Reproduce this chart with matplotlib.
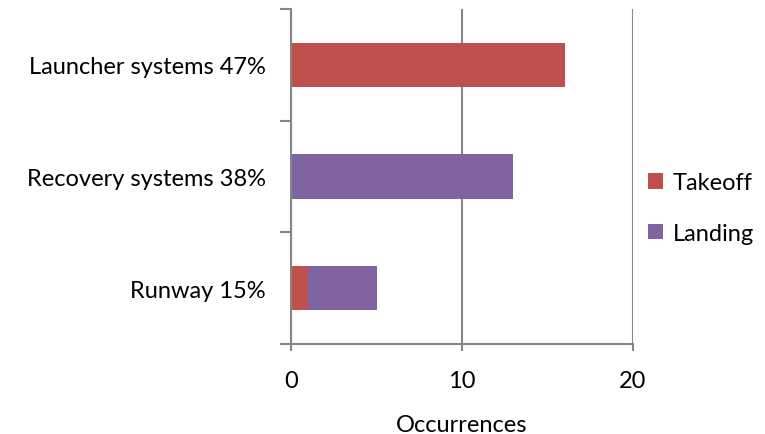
import matplotlib.pyplot as plt
import numpy as np

# categories listed top to bottom
categories = ["Launcher systems 47%", "Recovery systems 38%", "Runway 15%"]
takeoff = [16, 0, 1]
landing = [0, 13, 4]
x_ticks = [0, 10, 20]

plt.rcParams['font.family'] = ['Lato', 'DejaVu Sans']

fig = plt.figure(figsize=(7.65, 4.35), dpi=100)
ax = fig.add_axes([0.3804, 0.2069, 0.4471, 0.7701])

y = np.arange(len(categories))
ax.barh(y, takeoff, height=0.4, color='#C0504D', label='Takeoff')
ax.barh(y, landing, left=takeoff, height=0.4, color='#8064A2', label='Landing')

ax.set_xlim(0, 20)
ax.set_ylim(len(categories) - 0.5, -0.5)

grey = '#868686'
ax.set_xticks(x_ticks)
ax.set_xticklabels([str(t) for t in x_ticks], fontsize=17)
ax.tick_params(axis='x', colors=grey, length=5, width=1.5, labelcolor='black', pad=14)
ax.grid(axis='x', color=grey, linewidth=1.5)
ax.set_axisbelow(True)

# category boundaries as tick marks, names in between
ax.set_yticks(np.arange(-0.5, len(categories)))
ax.set_yticklabels([])
ax.tick_params(axis='y', colors=grey, length=8, width=1.5)
ax.set_yticks(y, minor=True)
ax.set_yticklabels(categories, minor=True, fontsize=17)
ax.tick_params(axis='y', which='minor', length=0, pad=18)

for side in ['top', 'right']:
    ax.spines[side].set_visible(False)
for side in ['left', 'bottom']:
    ax.spines[side].set_color(grey)
    ax.spines[side].set_linewidth(1.5)

ax.set_xlabel('Occurrences', fontsize=17, labelpad=16)

ax.legend(loc='center left', bbox_to_anchor=(1.044, 0.406), frameon=False,
          fontsize=17, handlelength=0.65, handleheight=0.65, labelspacing=1.25,
          handletextpad=0.4, borderpad=0, borderaxespad=0)

fig.savefig('out.png', dpi=100)
